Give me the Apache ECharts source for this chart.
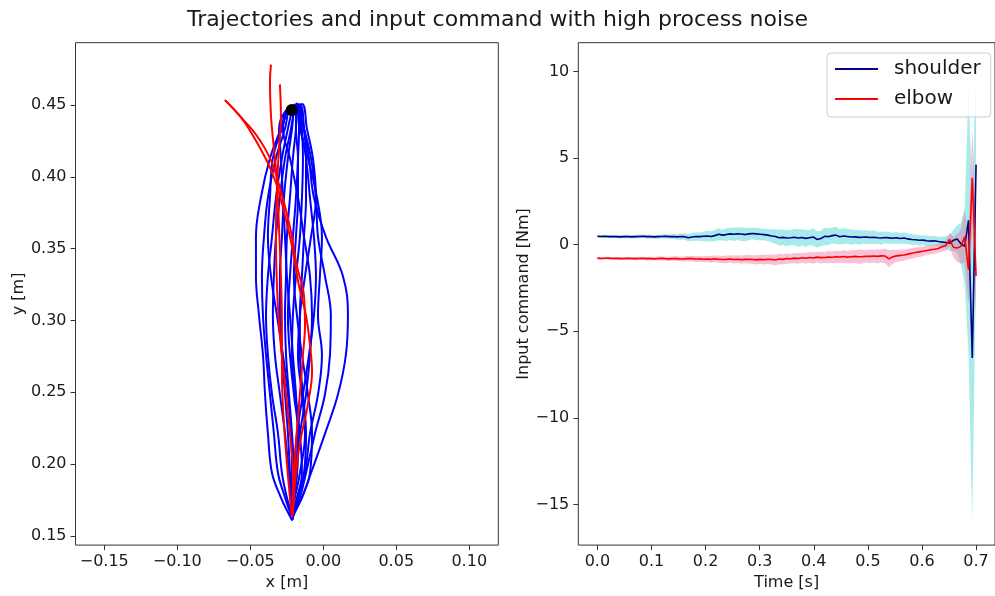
<!DOCTYPE html>
<html>
<head>
<meta charset="utf-8">
<script src="https://cdn.jsdelivr.net/npm/echarts@6/dist/echarts.min.js"></script>
<style>
  html, body { margin: 0; padding: 0; background: #fff; }
  #chart { width: 995px; height: 596px; }
</style>
</head>
<body>
<div id="chart"></div>
<script>
// ---- left panel: hand trajectories ----
const startPoint = [-0.0216, 0.4466];

// y levels shared by the blue runs (the 2nd level is replaced by each run's peak)
const blueRunY = [0.4466, 0.4493, 0.4336, 0.4130, 0.3856, 0.3582, 0.3308, 0.3034,
  0.2760, 0.2486, 0.2212, 0.1938, 0.1767, 0.1664, 0.1610];
const bluePeakY = [0.4500, 0.4486, 0.4479, 0.4507, 0.4470, 0.4479, 0.4493, 0.4507, 0.4500,
  0.4514, 0.4500, 0.4486, 0.4493, 0.4445, 0.4452, 0.4472, 0.4507, 0.4486];

const blueRunsX = [
  [-0.0216, -0.0160, -0.0132, -0.0098, -0.0064, 0.0018, 0.0135, 0.0169, 0.0155, 0.0101, 0.0012, -0.0084, -0.0146, -0.0201, -0.0214],
  [-0.0216, -0.0173, -0.0132, -0.0084, -0.0050, -0.0036, 0.0012, 0.0052, 0.0046, 0.0012, -0.0057, -0.0118, -0.0160, -0.0201, -0.0214],
  [-0.0216, -0.0187, -0.0160, -0.0105, -0.0043, -0.0009, -0.0023, -0.0036, -0.0009, -0.0036, -0.0091, -0.0125, -0.0173, -0.0201, -0.0214],
  [-0.0216, -0.0146, -0.0112, -0.0071, -0.0050, -0.0084, -0.0125, -0.0160, -0.0173, -0.0146, -0.0125, -0.0160, -0.0194, -0.0214, -0.0214],
  [-0.0216, -0.0242, -0.0290, -0.0365, -0.0427, -0.0461, -0.0461, -0.0440, -0.0413, -0.0399, -0.0379, -0.0351, -0.0290, -0.0242, -0.0214],
  [-0.0216, -0.0228, -0.0262, -0.0324, -0.0379, -0.0406, -0.0420, -0.0413, -0.0392, -0.0365, -0.0338, -0.0310, -0.0262, -0.0228, -0.0214],
  [-0.0216, -0.0208, -0.0242, -0.0283, -0.0324, -0.0351, -0.0379, -0.0392, -0.0379, -0.0351, -0.0310, -0.0283, -0.0249, -0.0221, -0.0214],
  [-0.0216, -0.0194, -0.0221, -0.0262, -0.0297, -0.0324, -0.0338, -0.0345, -0.0331, -0.0297, -0.0262, -0.0235, -0.0221, -0.0214, -0.0214],
  [-0.0216, -0.0201, -0.0214, -0.0242, -0.0269, -0.0283, -0.0297, -0.0297, -0.0283, -0.0262, -0.0242, -0.0228, -0.0221, -0.0214, -0.0214],
  [-0.0216, -0.0180, -0.0187, -0.0208, -0.0228, -0.0249, -0.0255, -0.0262, -0.0255, -0.0235, -0.0214, -0.0201, -0.0208, -0.0214, -0.0214],
  [-0.0216, -0.0166, -0.0166, -0.0173, -0.0187, -0.0208, -0.0228, -0.0242, -0.0228, -0.0201, -0.0173, -0.0180, -0.0201, -0.0208, -0.0214],
  [-0.0216, -0.0153, -0.0146, -0.0139, -0.0146, -0.0160, -0.0187, -0.0208, -0.0214, -0.0194, -0.0160, -0.0146, -0.0180, -0.0208, -0.0214],
  [-0.0216, -0.0160, -0.0132, -0.0118, -0.0118, -0.0132, -0.0146, -0.0160, -0.0160, -0.0139, -0.0118, -0.0132, -0.0173, -0.0201, -0.0214],
  [-0.0216, -0.0249, -0.0276, -0.0228, -0.0173, -0.0132, -0.0091, -0.0077, -0.0091, -0.0118, -0.0160, -0.0194, -0.0208, -0.0214, -0.0214],
  [-0.0216, -0.0262, -0.0303, -0.0290, -0.0276, -0.0262, -0.0249, -0.0228, -0.0208, -0.0187, -0.0173, -0.0180, -0.0201, -0.0214, -0.0214],
  [-0.0216, -0.0235, -0.0283, -0.0345, -0.0365, -0.0379, -0.0358, -0.0317, -0.0276, -0.0242, -0.0221, -0.0214, -0.0214, -0.0214, -0.0214],
  [-0.0216, -0.0166, -0.0153, -0.0118, -0.0091, -0.0064, -0.0050, -0.0064, -0.0098, -0.0139, -0.0180, -0.0201, -0.0214, -0.0214, -0.0214],
  [-0.0216, -0.0187, -0.0187, -0.0173, -0.0173, -0.0187, -0.0201, -0.0180, -0.0146, -0.0105, -0.0077, -0.0091, -0.0146, -0.0194, -0.0214]
];

const redRunsX = [
  [-0.0673, -0.0566, -0.0482, -0.0386, -0.0324, -0.0276, -0.0214, -0.0166, -0.0118, -0.0091, -0.0077, -0.0105, -0.0160, -0.0194, -0.0208],
  [-0.0673, -0.0566, -0.0461, -0.0365, -0.0297, -0.0228, -0.0180, -0.0132, -0.0125, -0.0139, -0.0160, -0.0187, -0.0201, -0.0208],
  [-0.0358, -0.0365, -0.0358, -0.0338, -0.0317, -0.0303, -0.0290, -0.0283, -0.0283, -0.0269, -0.0249, -0.0228, -0.0214],
  [-0.0297, -0.0290, -0.0303, -0.0317, -0.0324, -0.0317, -0.0297, -0.0262, -0.0228, -0.0208, -0.0208, -0.0214]
];
const redRunsY = [
  [0.4534, 0.4418, 0.4288, 0.4110, 0.3959, 0.3788, 0.3514, 0.3240, 0.3034, 0.2829, 0.2644, 0.2418, 0.2144, 0.1870, 0.1664],
  [0.4534, 0.4418, 0.4295, 0.4130, 0.3925, 0.3651, 0.3377, 0.3171, 0.2966, 0.2760, 0.2486, 0.2144, 0.1801, 0.1651],
  [0.4781, 0.4658, 0.4425, 0.4199, 0.3973, 0.3651, 0.3308, 0.2966, 0.2623, 0.2281, 0.2007, 0.1767, 0.1630],
  [0.4644, 0.4425, 0.4199, 0.3925, 0.3582, 0.3240, 0.2897, 0.2555, 0.2212, 0.1938, 0.1733, 0.1630]
];

const xTicksLeft = [-0.15, -0.10, -0.05, 0.00, 0.05, 0.10];
const yTicksLeft = [0.15, 0.20, 0.25, 0.30, 0.35, 0.40, 0.45];

// ---- right panel: input command ----
const timeS = [
  0, 0.007, 0.014, 0.021, 0.028, 0.035, 0.042, 0.049, 0.056, 0.063,
  0.07, 0.077, 0.084, 0.091, 0.098, 0.105, 0.112, 0.119, 0.126, 0.133,
  0.14, 0.147, 0.154, 0.161, 0.168, 0.175, 0.182, 0.189, 0.196, 0.203,
  0.21, 0.217, 0.224, 0.231, 0.238, 0.245, 0.252, 0.259, 0.266, 0.273,
  0.28, 0.287, 0.294, 0.301, 0.308, 0.315, 0.322, 0.329, 0.336, 0.343,
  0.35, 0.357, 0.364, 0.371, 0.378, 0.385, 0.392, 0.399, 0.406, 0.413,
  0.42, 0.427, 0.434, 0.441, 0.448, 0.455, 0.462, 0.469, 0.476, 0.483,
  0.49, 0.497, 0.504, 0.511, 0.518, 0.525, 0.532, 0.539, 0.546, 0.553,
  0.56, 0.567, 0.574, 0.581, 0.588, 0.595, 0.602, 0.609, 0.616, 0.623,
  0.63, 0.637, 0.644, 0.651, 0.658, 0.665, 0.672, 0.679, 0.686, 0.693,
  0.7
];

const shoulderMean = [
  0.48, 0.47, 0.48, 0.46, 0.47, 0.46, 0.45, 0.46, 0.47, 0.45,
  0.46, 0.47, 0.48, 0.46, 0.47, 0.45, 0.46, 0.47, 0.48, 0.46,
  0.47, 0.45, 0.47, 0.46, 0.40, 0.44, 0.47, 0.46, 0.48, 0.50,
  0.47, 0.52, 0.60, 0.55, 0.58, 0.62, 0.60, 0.63, 0.61, 0.58,
  0.62, 0.64, 0.62, 0.60, 0.58, 0.55, 0.50, 0.47, 0.40, 0.42,
  0.38, 0.40, 0.43, 0.38, 0.41, 0.36, 0.40, 0.44, 0.30, 0.35,
  0.48, 0.46, 0.52, 0.55, 0.45, 0.50, 0.47, 0.44, 0.45, 0.42,
  0.43, 0.44, 0.41, 0.43, 0.40, 0.38, 0.41, 0.39, 0.37, 0.40,
  0.35, 0.38, 0.33, 0.30, 0.28, 0.25, 0.26, 0.22, 0.20, 0.22,
  0.18, 0.15, 0.12, 0.08, 0.25, 0.32, 0.05, -0.10, 1.40, -6.55,
  4.62
];
const shoulderStd = [
  0.08, 0.08, 0.09, 0.08, 0.09, 0.09, 0.10, 0.09, 0.10, 0.10,
  0.10, 0.11, 0.10, 0.11, 0.12, 0.11, 0.12, 0.12, 0.13, 0.12,
  0.15, 0.17, 0.19, 0.18, 0.21, 0.23, 0.25, 0.24, 0.28, 0.30,
  0.29, 0.32, 0.35, 0.31, 0.37, 0.35, 0.39, 0.36, 0.40, 0.38,
  0.35, 0.33, 0.36, 0.34, 0.32, 0.35, 0.38, 0.42, 0.46, 0.44,
  0.48, 0.43, 0.47, 0.52, 0.46, 0.49, 0.44, 0.50, 0.47, 0.45,
  0.51, 0.48, 0.46, 0.50, 0.44, 0.47, 0.42, 0.45, 0.40, 0.42,
  0.38, 0.41, 0.37, 0.40, 0.35, 0.38, 0.33, 0.36, 0.32, 0.34,
  0.31, 0.33, 0.30, 0.32, 0.29, 0.31, 0.28, 0.30, 0.28, 0.30,
  0.27, 0.31, 0.36, 0.46, 0.60, 0.80, 1.20, 2.20, 7.60, 9.50,
  5.80
];
const elbowMean = [
  -0.78, -0.80, -0.79, -0.78, -0.80, -0.79, -0.81, -0.80, -0.79, -0.80,
  -0.81, -0.80, -0.79, -0.81, -0.80, -0.82, -0.80, -0.79, -0.81, -0.82,
  -0.80, -0.81, -0.83, -0.82, -0.80, -0.81, -0.83, -0.82, -0.84, -0.83,
  -0.85, -0.82, -0.84, -0.86, -0.85, -0.83, -0.86, -0.84, -0.87, -0.85,
  -0.84, -0.86, -0.88, -0.85, -0.87, -0.84, -0.86, -0.89, -0.83, -0.85,
  -0.80, -0.82, -0.78, -0.80, -0.76, -0.79, -0.74, -0.77, -0.72, -0.75,
  -0.74, -0.72, -0.73, -0.70, -0.71, -0.69, -0.72, -0.70, -0.68, -0.70,
  -0.69, -0.67, -0.68, -0.66, -0.68, -0.65, -0.66, -0.82, -0.70, -0.65,
  -0.62, -0.60, -0.55, -0.50, -0.45, -0.42, -0.38, -0.34, -0.30, -0.27,
  -0.22, -0.12, -0.05, 0.30, -0.15, -0.20, -0.10, 0.45, -1.45, 3.86,
  -1.82
];
const elbowStd = [
  0.06, 0.07, 0.07, 0.08, 0.07, 0.08, 0.08, 0.09, 0.08, 0.09,
  0.09, 0.10, 0.09, 0.10, 0.11, 0.10, 0.11, 0.12, 0.11, 0.12,
  0.13, 0.14, 0.13, 0.15, 0.16, 0.15, 0.17, 0.18, 0.17, 0.19,
  0.20, 0.19, 0.21, 0.20, 0.22, 0.21, 0.23, 0.22, 0.24, 0.23,
  0.25, 0.24, 0.27, 0.26, 0.28, 0.27, 0.29, 0.31, 0.30, 0.28,
  0.30, 0.27, 0.29, 0.31, 0.28, 0.32, 0.30, 0.33, 0.31, 0.34,
  0.32, 0.35, 0.33, 0.36, 0.34, 0.37, 0.35, 0.38, 0.36, 0.42,
  0.38, 0.36, 0.40, 0.37, 0.41, 0.38, 0.42, 0.50, 0.40, 0.36,
  0.34, 0.32, 0.30, 0.31, 0.29, 0.30, 0.28, 0.27, 0.26, 0.25,
  0.25, 0.27, 0.30, 0.40, 0.60, 0.80, 1.00, 1.50, 2.00, 2.90,
  2.50
];

const xTicksRight = [0, 0.1, 0.2, 0.3, 0.4, 0.5, 0.6, 0.7];
const yTicksRight = [-15, -10, -5, 0, 5, 10];

const FONT = "DejaVu Sans";
const TXT = "#1a1a1a";

function fmtNum(v, d) {
  const s = Math.abs(v).toFixed(d);
  return (v < 0 && Number(s) !== 0 ? "\u2212" : "") + s;
}

function axisCommon(ticks, digits) {
  return {
    axisLine: { show: false, onZero: false },
    axisTick: { show: true, length: 5, customValues: ticks, lineStyle: { color: "#333", width: 1 } },
    axisLabel: {
      customValues: ticks, margin: 9, fontFamily: FONT, fontSize: 16, color: TXT,
      formatter: (v) => fmtNum(v, digits)
    },
    splitLine: { show: false },
    nameLocation: "middle",
    nameTextStyle: { fontFamily: FONT, fontSize: 16, color: TXT }
  };
}

// band polygon: mean +/- std, drawn once as a single shape
function bandSeries(name, mean, std, color) {
  return {
    type: "custom",
    name: name,
    xAxisIndex: 1,
    yAxisIndex: 1,
    silent: true,
    clip: true,
    data: timeS.map((t, i) => [t, mean[i] - std[i], mean[i] + std[i]]),
    encode: { x: 0, y: [1, 2] },
    renderItem: function (params, api) {
      if (params.dataIndex !== 0) return null;
      const pts = [];
      for (let i = 0; i < timeS.length; i++) pts.push(api.coord([timeS[i], mean[i] + std[i]]));
      for (let i = timeS.length - 1; i >= 0; i--) pts.push(api.coord([timeS[i], mean[i] - std[i]]));
      return { type: "polygon", shape: { points: pts }, style: { fill: color, stroke: null } };
    }
  };
}

const series = [];
blueRunsX.forEach((xs, i) => {
  series.push({
    type: "line", name: "blue" + i, xAxisIndex: 0, yAxisIndex: 0,
    data: xs.map((x, j) => [x, j === 1 ? bluePeakY[i] : blueRunY[j]]),
    showSymbol: false, smooth: 0.4, silent: true,
    lineStyle: { color: "#0000ff", width: 2 }
  });
});
redRunsX.forEach((xs, i) => {
  series.push({
    type: "line", name: "red" + i, xAxisIndex: 0, yAxisIndex: 0,
    data: xs.map((x, j) => [x, redRunsY[i][j]]),
    showSymbol: false, smooth: 0.4, silent: true,
    lineStyle: { color: "#ff0000", width: 2 }
  });
});
series.push({
  type: "scatter", name: "start", xAxisIndex: 0, yAxisIndex: 0, data: [startPoint],
  symbol: "circle", symbolSize: 12, itemStyle: { color: "#000", opacity: 1 }, z: 20, silent: true
});

series.push(bandSeries("shoulderBand", shoulderMean, shoulderStd, "rgba(64,208,208,0.45)"));
series.push({
  type: "line", name: "shoulder", xAxisIndex: 1, yAxisIndex: 1,
  data: timeS.map((t, i) => [t, shoulderMean[i]]),
  showSymbol: false, lineStyle: { color: "#000080", width: 1.6 }, itemStyle: { color: "#000080" }
});
series.push(bandSeries("elbowBand", elbowMean, elbowStd, "rgba(240,100,150,0.4)"));
series.push({
  type: "line", name: "elbow", xAxisIndex: 1, yAxisIndex: 1,
  data: timeS.map((t, i) => [t, elbowMean[i]]),
  showSymbol: false, lineStyle: { color: "#ff0000", width: 1.6 }, itemStyle: { color: "#ff0000" }
});

const option = {
  animation: false,
  backgroundColor: "#fff",
  title: {
    text: "Trajectories and input command with high process noise",
    left: "center", top: 9, padding: 0,
    textStyle: { fontFamily: FONT, fontSize: 22, fontWeight: "normal", color: TXT }
  },
  legend: {
    data: ["shoulder", "elbow"],
    orient: "vertical",
    left: 827, top: 53,
    icon: "rect", itemWidth: 43, itemHeight: 2, itemGap: 10,
    padding: [6, 10, 8, 8],
    backgroundColor: "rgba(255,255,255,0.8)",
    borderColor: "#cccccc", borderWidth: 1, borderRadius: 4,
    textStyle: { fontFamily: FONT, fontSize: 20, color: TXT, padding: [0, 0, 0, 11] }
  },
  grid: [
    { left: 75.5, top: 42.7, width: 422.8, height: 510.6, show: true, borderColor: "#333", borderWidth: 1, containLabel: false },
    { left: 578.3, top: 42.7, width: 422.9, height: 510.6, show: true, borderColor: "#333", borderWidth: 1, containLabel: false }
  ],
  xAxis: [
    Object.assign(axisCommon(xTicksLeft, 2), { type: "value", gridIndex: 0, min: -0.1697, max: 0.1199, name: "x [m]", nameGap: 24 }),
    Object.assign(axisCommon(xTicksRight, 1), { type: "value", gridIndex: 1, min: -0.0353, max: 0.7350, name: "Time [s]", nameGap: 24 })
  ],
  yAxis: [
    Object.assign(axisCommon(yTicksLeft, 2), { type: "value", gridIndex: 0, min: 0.1436, max: 0.4934, name: "y [m]", nameGap: 49 }),
    Object.assign(axisCommon(yTicksRight, 0), { type: "value", gridIndex: 1, min: -17.35, max: 11.66, name: "Input command [Nm]", nameGap: 46 })
  ],
  series: series
};

const chart = echarts.init(document.getElementById("chart"), null, { renderer: "canvas" });
chart.setOption(option);
</script>
</body>
</html>
